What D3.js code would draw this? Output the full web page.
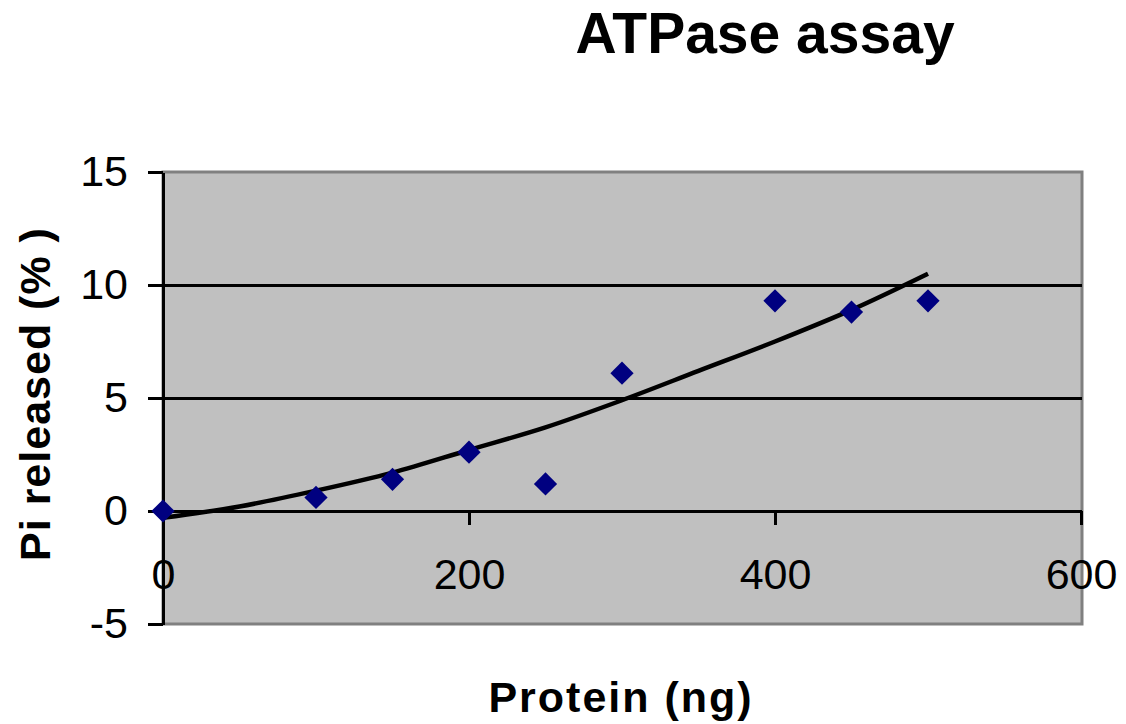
<!DOCTYPE html>
<meta charset="utf-8">
<style>
body { margin: 0; background: #fff; }
svg { display: block; background: #fff; }
.axis text { font: 43px "Liberation Sans", Arial, sans-serif; fill: #000; }
.axis line, .axis path { stroke: #000; stroke-width: 3px; shape-rendering: crispEdges; }
.label { font-family: "Liberation Sans", Arial, sans-serif; font-weight: bold; fill: #000; }
</style>
<body>
<div id="chart"></div>
<script src="https://d3js.org/d3.v7.min.js"></script>
<script>
// measured points
var protein = [0, 100, 150, 200, 250, 300, 400, 450, 500];
var piReleased = [0, 0.6, 1.4, 2.6, 1.2, 6.1, 9.3, 8.8, 9.3];

// trendline
var trendX = [0, 50, 100, 150, 200, 250, 300, 350, 400, 450, 500];
var trendY = [-0.3, 0.2, 0.9, 1.7, 2.7, 3.7, 4.9, 6.2, 7.5, 8.9, 10.5];

var xTicks = [0, 200, 400, 600];
var yTicks = [-5, 0, 5, 10, 15];

var width = 1126, height = 724;
var plot = {left: 163, right: 1082, top: 172, bottom: 624};

var svg = d3.select("#chart").append("svg")
    .attr("width", width)
    .attr("height", height);

var x = d3.scaleLinear().domain([0, 600]).range([plot.left, plot.right - 1]);
var y = d3.scaleLinear().domain([-5, 15]).range([plot.bottom, plot.top]);

// plot area
svg.append("rect")
    .attr("x", plot.left)
    .attr("y", plot.top)
    .attr("width", plot.right - plot.left)
    .attr("height", plot.bottom - plot.top)
    .attr("fill", "#c0c0c0")
    .attr("stroke", "#808080")
    .attr("stroke-width", 3);

// gridlines
svg.append("g").selectAll("line")
    .data(yTicks.filter(function(d) { return d > 0 && d < 15; }))
    .enter().append("line")
    .attr("x1", plot.left)
    .attr("x2", plot.right)
    .attr("y1", function(d) { return y(d); })
    .attr("y2", function(d) { return y(d); })
    .attr("stroke", "#000")
    .attr("stroke-width", 3)
    .style("shape-rendering", "crispEdges");

// plain hyphen for negatives, like the original
var fmt = function(d) { return String(d); };

// x axis crosses at y = 0
svg.append("g")
    .attr("class", "axis")
    .attr("transform", "translate(0," + y(0) + ")")
    .call(d3.axisBottom(x).tickValues(xTicks).tickFormat(fmt)
        .tickSize(14).tickSizeOuter(0).tickPadding(33));

// y axis
svg.append("g")
    .attr("class", "axis")
    .attr("transform", "translate(" + plot.left + ",0)")
    .call(d3.axisLeft(y).tickValues(yTicks).tickFormat(fmt)
        .tickSize(15).tickSizeOuter(0).tickPadding(20));

// trendline
var trend = trendX.map(function(d, i) { return [d, trendY[i]]; });
svg.append("path")
    .datum(trend)
    .attr("fill", "none")
    .attr("stroke", "#000")
    .attr("stroke-width", 4.5)
    .attr("d", d3.line()
        .x(function(d) { return x(d[0]); })
        .y(function(d) { return y(d[1]); })
        .curve(d3.curveMonotoneX));

// diamonds
var diamond = d3.symbol().type(d3.symbolSquare).size(270);
svg.append("g").selectAll("path")
    .data(protein)
    .enter().append("path")
    .attr("d", diamond)
    .attr("fill", "#000080")
    .attr("transform", function(d, i) {
        return "translate(" + x(d) + "," + y(piReleased[i]) + ") rotate(45)";
    });

// title and axis labels
svg.append("text")
    .attr("class", "label")
    .attr("x", 765)
    .attr("y", 53)
    .attr("text-anchor", "middle")
    .style("font-size", "57px")
    .text("ATPase assay");

svg.append("text")
    .attr("class", "label")
    .attr("x", 621)
    .attr("y", 712)
    .attr("text-anchor", "middle")
    .style("font-size", "43px")
    .style("letter-spacing", "2px")
    .text("Protein (ng)");

svg.append("text")
    .attr("class", "label")
    .attr("transform", "translate(50,394) rotate(-90)")
    .attr("text-anchor", "middle")
    .style("font-size", "43px")
    .style("letter-spacing", "1px")
    .text("Pi released (% )");
</script>
</body>
